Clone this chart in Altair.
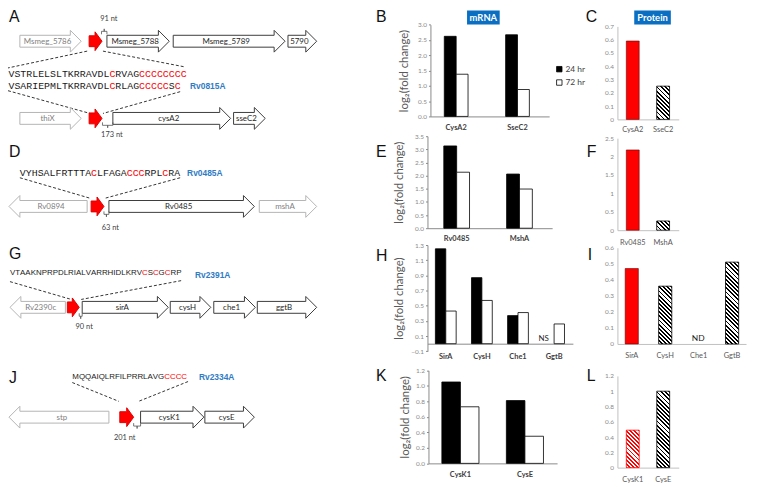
import math
import altair as alt
import pandas as pd

W, H = 749, 479
OX, OY = 8, 8
FONT = "Lato"


def px(v):
    return v - OX


def py(v):
    return v - OY

# ---------------- DATA ----------------
series = ["24 hr", "72 hr"]
series_colors = ["#000000", "#ffffff"]

# mRNA panels (log2 fold change)
b_genes = ["CysA2", "SseC2"]
b_24 = [2.62, 2.67]
b_72 = [1.38, 0.88]
b_ticks = [0, 0.5, 1, 1.5, 2, 2.5, 3]

e_genes = ["Rv0485", "MshA"]
e_24 = [3.13, 2.06]
e_72 = [2.13, 1.49]
e_ticks = [0, 0.5, 1, 1.5, 2, 2.5, 3, 3.5]

h_genes = ["SirA", "CysH", "Che1", "GgtB"]
h_24 = [1.25, 0.87, 0.37, None]
h_72 = [0.43, 0.57, 0.41, 0.26]
h_note = ["", "", "", "NS"]
h_ticks = [-0.1, 0.1, 0.3, 0.5, 0.7, 0.9, 1.1, 1.3]

k_genes = ["CysK1", "CysE"]
k_24 = [1.05, 0.81]
k_72 = [0.73, 0.35]
k_ticks = [0, 0.2, 0.4, 0.6, 0.8, 1.0, 1.2]

# Protein panels
c_genes = ["CysA2", "SseC2"]
c_vals = [0.59, 0.25]
c_kind = ["red", "hatch"]
c_ticks = [0, 0.1, 0.2, 0.3, 0.4, 0.5, 0.6, 0.7]

f_genes = ["Rv0485", "MshA"]
f_vals = [2.18, 0.25]
f_kind = ["red", "hatch"]
f_ticks = [0, 0.5, 1, 1.5, 2, 2.5]

i_genes = ["SirA", "CysH", "Che1", "GgtB"]
i_vals = [0.47, 0.36, None, 0.51]
i_kind = ["red", "hatch", "ND", "hatch"]
i_ticks = [0, 0.1, 0.2, 0.3, 0.4, 0.5, 0.6]

l_genes = ["CysK1", "CysE"]
l_vals = [0.49, 1.00]
l_kind = ["redhatch", "hatch"]
l_ticks = [0, 0.2, 0.4, 0.6, 0.8, 1, 1.2]

# Gene maps (schematic positions, reference pixels)
arrow_label = ["Msmeg_5786", "", "Msmeg_5788", "Msmeg_5789", "5790",
               "thiX", "", "cysA2", "sseC2",
               "Rv0894", "", "Rv0485", "mshA",
               "Rv2390c", "", "sirA", "cysH", "che1", "ggtB",
               "stp", "", "cysK1", "cysE"]
arrow_y = [39] * 5 + [117] * 4 + [206] * 4 + [308] * 6 + [419] * 4
arrow_tail = [20, 90, 108, 175, 291, 20, 90, 114, 236, 88, 92, 110, 262,
              66, 68, 83, 172, 216, 260, 110, 121, 142, 207]
arrow_tip = [82, 103, 171, 288, 320, 82, 103, 233, 268, 9, 105, 257, 320,
             10, 80, 170, 213, 258, 320, 9, 135, 206, 257]
arrow_kind = ["light", "red", "dark", "dark", "dark",
              "light", "red", "dark", "dark",
              "light", "red", "dark", "light",
              "light", "red", "dark", "dark", "dark", "dark",
              "light", "red", "dark", "dark"]

seq_text = ["VSTRLELSLTKRRAVDLCRVAGCCCCCCCC",
            "VSARIEPMLTKRRAVDLCRLAGCCCCCSC",
            "VYHSALFRTTTACLFAGACCCRPLCRA",
            "VTAAKNPRPDLRIALVARRHIDLKRVCSCGCRP",
            "MQQAIQLRFILPRRLAVGCCCC"]
seq_x = [8.5, 8.5, 20, 10, 73]
seq_y = [72, 84.5, 172, 273.5, 378.5]
seq_style = ["mono", "mono", "mono", "sans", "sans"]

rv_ids = ["Rv0815A", "Rv0485A", "Rv2391A", "Rv2334A"]
rv_x = [192, 189, 197, 201]
rv_y = [84.5, 172, 275, 378.5]

dash_x1 = [88, 104, 8, 182, 20, 182, 10, 183, 73, 190]
dash_y1 = [49, 49, 89, 90, 177, 177, 282, 281, 384, 383]
dash_x2 = [8, 187, 91, 104, 92, 105, 72, 82, 120, 140]
dash_y2 = [66, 65, 112, 112, 198, 198, 300, 300, 403, 403]

nt_text = ["91 nt", "173 nt", "63 nt", "90 nt", "201 nt"]
nt_x = [110, 113, 111.5, 85, 126]
nt_y = [17, 134, 228, 328, 440]
bracket_pts = [
    [(102.5, 32), (102.5, 29), (105.25, 29), (105.25, 26.5), (105.25, 29), (108, 29), (108, 32)],
    [(103.5, 121), (103.5, 124), (108.75, 124), (108.75, 126.5), (108.75, 124), (114, 124), (114, 121)],
    [(105, 211), (105, 214), (107.5, 214), (107.5, 216.5), (107.5, 214), (110, 214), (110, 211)],
    [(80, 314), (80, 317), (81.5, 317), (81.5, 319.5), (81.5, 317), (83, 317), (83, 314)],
    [(135, 425), (135, 428), (138.5, 428), (138.5, 430.5), (138.5, 428), (142, 428), (142, 425)],
]

letters = ["A", "B", "C", "D", "E", "F", "G", "H", "I", "J", "K", "L"]
letter_x = [9, 380, 592, 9, 380, 593, 9, 380, 594, 9, 380, 593]
letter_y = [15, 15, 15, 151, 151, 151, 254, 256, 255, 379, 377, 377]

box_label = ["mRNA", "Protein"]
box_x0 = [472, 641]
box_x1 = [505, 678]
box_y0 = [8, 8]
box_y1 = [22, 22]

# ---------------- helpers ----------------
ARIAL = {"A": 667, "C": 722, "D": 722, "E": 667, "F": 611, "G": 778, "H": 722,
         "I": 278, "K": 667, "L": 556, "M": 833, "N": 722, "P": 667, "Q": 778,
         "R": 722, "S": 667, "T": 611, "V": 667, "Y": 667, "W": 944}


def PX():
    return alt.Scale(domain=[OX, OX + W], range=[0, W], nice=False, zero=False)


def PY():
    return alt.Scale(domain=[OY, OY + H], range=[0, H], nice=False, zero=False)


def band(domain, r0, r1, c0, step, bw):
    n = len(domain)
    pin = 1 - bw / step
    pout = ((r1 - r0) / step - n + pin) / 2
    align = (c0 - bw / 2 - r0) / (2 * pout * step)
    return alt.Scale(domain=domain, range=[px(r0), px(r1)], paddingInner=pin,
                     paddingOuter=pout, align=align, round=False)


def lin(lo, hi, ylo, yhi):
    return alt.Scale(domain=[lo, hi], range=[py(ylo), py(yhi)], nice=False)


def hatch(w, h, line_color, period=4.2, duty=0.45):
    r = w / h
    k = (1 + r) / (1 + r * r)
    n = (w + h) / period
    stops = []
    i = 0
    while i < n:
        s = min(i / n, 1)
        m = min((i + duty) / n, 1)
        e = min((i + 1) / n, 1)
        stops += [(s, line_color), (m, line_color), (m, "#ffffff"), (e, "#ffffff")]
        i += 1
    return alt.LinearGradient(
        gradient="linear", x1=1, y1=0, x2=1 - r * k, y2=k,
        stops=[alt.GradientStop(offset=round(o, 4), color=c) for o, c in stops])


def text_layer(df, font, size, weight="normal", align="left", baseline="middle"):
    return alt.Chart(df).mark_text(font=font, fontSize=size, fontWeight=weight,
                                   align=align, baseline=baseline).encode(
        x=alt.X("x:Q", scale=PX(), axis=None),
        y=alt.Y("y:Q", scale=PY(), axis=None),
        text="t:N",
        fill=alt.Fill("c:N", scale=None),
    )


LEGEND = alt.Legend(orient="none", legendX=px(561), legendY=py(63), title=None,
                    symbolType="square", symbolSize=30, symbolStrokeColor="#000000",
                    symbolStrokeWidth=0.8, labelFont=FONT, labelFontSize=8.5,
                    labelColor="#404040", rowPadding=3.5, labelOffset=2, padding=0)


def mrna_panel(genes, v24, v72, notes, r0, r1, c0, step, bw, lo, hi, ylo, yhi,
               ticks, axis_x, lab_pad, title_pad):
    ppu = (ylo - yhi) / (hi - lo)
    zero_px = ylo - (0 - lo) * ppu
    rows = []
    for g, a, b in zip(genes, v24, v72):
        for s, v in zip(series, (a, b)):
            if v is not None:
                rows.append({"gene": g, "series": s, "v": v})
    df = pd.DataFrame(rows)
    bars = alt.Chart(df).mark_bar(stroke="#000000", strokeWidth=0.8).encode(
        x=alt.X("gene:N", scale=band(genes, r0, r1, c0, step, bw), title=None,
                axis=alt.Axis(orient="bottom", offset=py(zero_px) - H, domainColor="#8a8a8a",
                              ticks=False, tickSize=0, labelPadding=lab_pad, labelFont=FONT,
                              labelFontSize=7.5, labelFontWeight="bold", labelColor="#404040",
                              labelAngle=0, grid=False)),
        xOffset=alt.XOffset("series:N", scale=alt.Scale(domain=series, paddingInner=0, paddingOuter=0)),
        y=alt.Y("v:Q", scale=lin(lo, hi, ylo, yhi), stack=None,
                axis=alt.Axis(orient="left", offset=-px(axis_x), values=ticks, format=".1f",
                              title="log\u2082(fold change)", titleFont=FONT, titleFontSize=11.5,
                              titleFontWeight="normal", titleColor="#595959", titlePadding=title_pad,
                              domainColor="#8a8a8a", tickColor="#8a8a8a", tickSize=2,
                              labelFont=FONT, labelFontSize=6.5, labelColor="#8a8a8a",
                              labelPadding=2, grid=False, labelOverlap=False)),
        color=alt.Color("series:N", scale=alt.Scale(domain=series, range=series_colors), legend=LEGEND),
    )
    out = [bars]
    nrows = [{"gene": g, "series": series[0], "v": 0, "t": t} for g, t in zip(genes, notes) if t]
    if nrows:
        out.append(alt.Chart(pd.DataFrame(nrows)).mark_text(
            font=FONT, fontSize=8, baseline="bottom", dy=-1, color="#262626").encode(
            x=alt.X("gene:N", scale=band(genes, r0, r1, c0, step, bw), axis=None),
            xOffset=alt.XOffset("series:N", scale=alt.Scale(domain=series, paddingInner=0, paddingOuter=0)),
            y=alt.Y("v:Q", scale=lin(lo, hi, ylo, yhi), axis=None),
            text="t:N"))
    return out


def protein_panel(genes, vals, kinds, r0, r1, c0, step, bw, lo, hi, ylo, yhi,
                  ticks, axis_x, lab_pad):
    ppu = (ylo - yhi) / (hi - lo)
    zero_px = ylo - (0 - lo) * ppu

    def xs():
        return band(genes, r0, r1, c0, step, bw)

    def ys():
        return lin(lo, hi, ylo, yhi)

    out = []
    axis_df = pd.DataFrame({"gene": genes, "v": [0.0] * len(genes)})
    out.append(alt.Chart(axis_df).mark_bar(opacity=0).encode(
        x=alt.X("gene:N", scale=xs(), title=None,
                axis=alt.Axis(orient="bottom", offset=py(zero_px) - H, domainColor="#c0c0c0",
                              ticks=False, tickSize=0, labelPadding=lab_pad, labelFont=FONT,
                              labelFontSize=7.5, labelColor="#595959", labelAngle=0, grid=False)),
        y=alt.Y("v:Q", scale=ys(), stack=None,
                axis=alt.Axis(orient="left", offset=-px(axis_x), values=ticks, format="~g",
                              title=None, domainColor="#c0c0c0", ticks=False, tickSize=0,
                              labelFont=FONT, labelFontSize=6.5, labelColor="#8a8a8a",
                              labelPadding=4, grid=False, labelOverlap=False)),
    ))
    solid = [(g, v) for g, v, k in zip(genes, vals, kinds) if k == "red"]
    if solid:
        out.append(alt.Chart(pd.DataFrame({"gene": [s[0] for s in solid], "v": [s[1] for s in solid]}))
                   .mark_bar(fill="#ff0000", stroke="#6a0000", strokeWidth=0.6).encode(
            x=alt.X("gene:N", scale=xs(), axis=None),
            y=alt.Y("v:Q", scale=ys(), axis=None, stack=None)))
    for g, v, k in zip(genes, vals, kinds):
        if k in ("hatch", "redhatch"):
            col = "#000000" if k == "hatch" else "#ff0000"
            grad = hatch(bw, v * ppu, col)
            out.append(alt.Chart(pd.DataFrame({"gene": [g], "v": [v]}))
                       .mark_bar(fill=grad, stroke=col, strokeWidth=0.8).encode(
                x=alt.X("gene:N", scale=xs(), axis=None),
                y=alt.Y("v:Q", scale=ys(), axis=None, stack=None)))
        if k == "ND":
            out.append(alt.Chart(pd.DataFrame({"gene": [g], "v": [0.0], "t": ["ND"]}))
                       .mark_text(font=FONT, fontSize=8.5, baseline="bottom", dy=-1, color="#1a1a1a").encode(
                x=alt.X("gene:N", scale=xs(), axis=None),
                y=alt.Y("v:Q", scale=ys(), axis=None),
                text="t:N"))
    return out

# ---------------- page-level schematic layers ----------------
BODY = {"light": 6, "dark": 6, "red": 5.5}
HEAD = {"light": 11, "dark": 11, "red": 9.5}
HLEN = {"light": 11, "dark": 11, "red": 7}
STROKE = {"light": "#b4b4b4", "dark": "#3c3c3c", "red": "#e00000"}
LABCOL = {"light": "#808080", "dark": "#262626", "red": "#000000"}

white_rows, red_rows, labrows = [], [], []
for i, (nm, yc, t0, t1, kd) in enumerate(zip(arrow_label, arrow_y, arrow_tail, arrow_tip, arrow_kind)):
    d = 1 if t1 > t0 else -1
    bh, hh, hl = BODY[kd], HEAD[kd], HLEN[kd]
    hx = t1 - d * hl
    pts = [(t0, yc - bh), (hx, yc - bh), (hx, yc - hh), (t1, yc),
           (hx, yc + hh), (hx, yc + bh), (t0, yc + bh)]
    target = red_rows if kd == "red" else white_rows
    for k, (x, y) in enumerate(pts):
        target.append({"gid": i, "k": k, "x": x, "y": y, "s": STROKE[kd]})
    if nm:
        labrows.append({"x": (t0 + t1) / 2 - d * 3, "y": yc + 0.5, "t": nm, "c": LABCOL[kd]})


def arrow_layer(rows, fill):
    return alt.Chart(pd.DataFrame(rows)).mark_line(
        interpolate="linear-closed", fill=fill, strokeWidth=1).encode(
        x=alt.X("x:Q", scale=PX(), axis=None),
        y=alt.Y("y:Q", scale=PY(), axis=None),
        detail="gid:N",
        order="k:Q",
        stroke=alt.Stroke("s:N", scale=None),
    )


mono_rows, sans_rows = [], []
for s, x0, y0, st in zip(seq_text, seq_x, seq_y, seq_style):
    if st == "mono":
        fs = 10
        for j, ch in enumerate(s):
            mono_rows.append({"x": x0 + j * 0.6 * fs, "y": y0, "t": ch,
                              "c": "#ff0000" if ch == "C" else "#1a1a1a"})
    else:
        fs = 8
        acc = 0
        for ch in s:
            sans_rows.append({"x": x0 + acc * fs / 1000, "y": y0, "t": ch,
                              "c": "#ff0000" if ch == "C" else "#1a1a1a"})
            acc += ARIAL[ch]

dash_df = pd.DataFrame({"x": dash_x1, "y": dash_y1, "x2": dash_x2, "y2": dash_y2})
dashes = alt.Chart(dash_df).mark_rule(strokeDash=[3, 2], color="#333333", strokeWidth=1).encode(
    x=alt.X("x:Q", scale=PX(), axis=None), y=alt.Y("y:Q", scale=PY(), axis=None),
    x2="x2:Q", y2="y2:Q")

brows = []
for bi, pts in enumerate(bracket_pts):
    for k, (x, y) in enumerate(pts):
        brows.append({"bid": bi, "k": k, "x": x, "y": y})
brackets = alt.Chart(pd.DataFrame(brows)).mark_line(color="#555555", strokeWidth=0.8).encode(
    x=alt.X("x:Q", scale=PX(), axis=None), y=alt.Y("y:Q", scale=PY(), axis=None),
    detail="bid:N", order="k:Q")

boxes = alt.Chart(pd.DataFrame({"x": box_x0, "x2": box_x1, "y": box_y0, "y2": box_y1})).mark_rect(
    fill="#0a6fc2").encode(
    x=alt.X("x:Q", scale=PX(), axis=None), y=alt.Y("y:Q", scale=PY(), axis=None),
    x2="x2:Q", y2="y2:Q")
box_text = text_layer(pd.DataFrame({"x": [(a + b) / 2 for a, b in zip(box_x0, box_x1)],
                                    "y": [(a + b) / 2 + 0.5 for a, b in zip(box_y0, box_y1)],
                                    "t": box_label, "c": ["#ffffff"] * 2}),
                      FONT, 9.5, "bold", "center")

page_layers = [
    dashes,
    arrow_layer(white_rows, "#ffffff"),
    arrow_layer(red_rows, "#ff0000"),
    brackets,
    text_layer(pd.DataFrame(labrows), FONT, 8, "normal", "center"),
    text_layer(pd.DataFrame(mono_rows), "Liberation Mono", 10),
    text_layer(pd.DataFrame(sans_rows), "Liberation Sans", 8),
    text_layer(pd.DataFrame({"x": rv_x, "y": rv_y, "t": rv_ids, "c": ["#2f7bc4"] * 4}),
               "Liberation Sans", 8.5, "bold"),
    text_layer(pd.DataFrame({"x": letter_x, "y": letter_y, "t": letters, "c": ["#111111"] * 12}),
               "Liberation Sans", 16),
    text_layer(pd.DataFrame({"x": nt_x, "y": nt_y, "t": nt_text, "c": ["#404040"] * 5}),
               FONT, 7.5, "normal", "center"),
    boxes, box_text,
]

panel_layers = []
panel_layers += mrna_panel(b_genes, b_24, b_72, ["", ""], 435, 555, 461, 62, 24,
                           0, 3, 115, 22.3, b_ticks, 435, 7, 8)
panel_layers += mrna_panel(e_genes, e_24, e_72, ["", ""], 432, 558, 461.5, 63.5, 26,
                           0, 3.5, 228, 135, e_ticks, 432, 6, 10)
panel_layers += mrna_panel(h_genes, h_24, h_72, h_note, 432, 579, 450.5, 36.5, 21,
                           -0.1, 1.3, 352.4, 245, h_ticks, 432, 8.5, 6)
panel_layers += mrna_panel(k_genes, k_24, k_72, ["", ""], 433, 563, 465.3, 65.2, 37.5,
                           0, 1.2, 465.7, 371.7, k_ticks, 433, 7, 5)
panel_layers += protein_panel(c_genes, c_vals, c_kind, 624, 686, 639.5, 30.7, 13,
                              0, 0.7, 118, 24, c_ticks, 624, 6)
panel_layers += protein_panel(f_genes, f_vals, f_kind, 624, 686, 639.5, 30.7, 13,
                              0, 2.5, 230, 137, f_ticks, 624, 8)
panel_layers += protein_panel(i_genes, i_vals, i_kind, 624, 754, 638.5, 33.8, 13.3,
                              0, 0.6, 345, 247.7, i_ticks, 624, 8)
panel_layers += protein_panel(l_genes, l_vals, l_kind, 624, 686, 639.5, 30.8, 13,
                              0, 1.2, 470, 377.3, l_ticks, 624, 8)

chart = alt.layer(*(panel_layers + page_layers)).resolve_scale(
    x="independent", y="independent", xOffset="independent"
).properties(
    width=W, height=H, padding=0, autosize=alt.AutoSizeParams(type="none")
).configure_view(stroke=None)

chart.save("out.html", embed_options={"renderer": "svg", "actions": False})
